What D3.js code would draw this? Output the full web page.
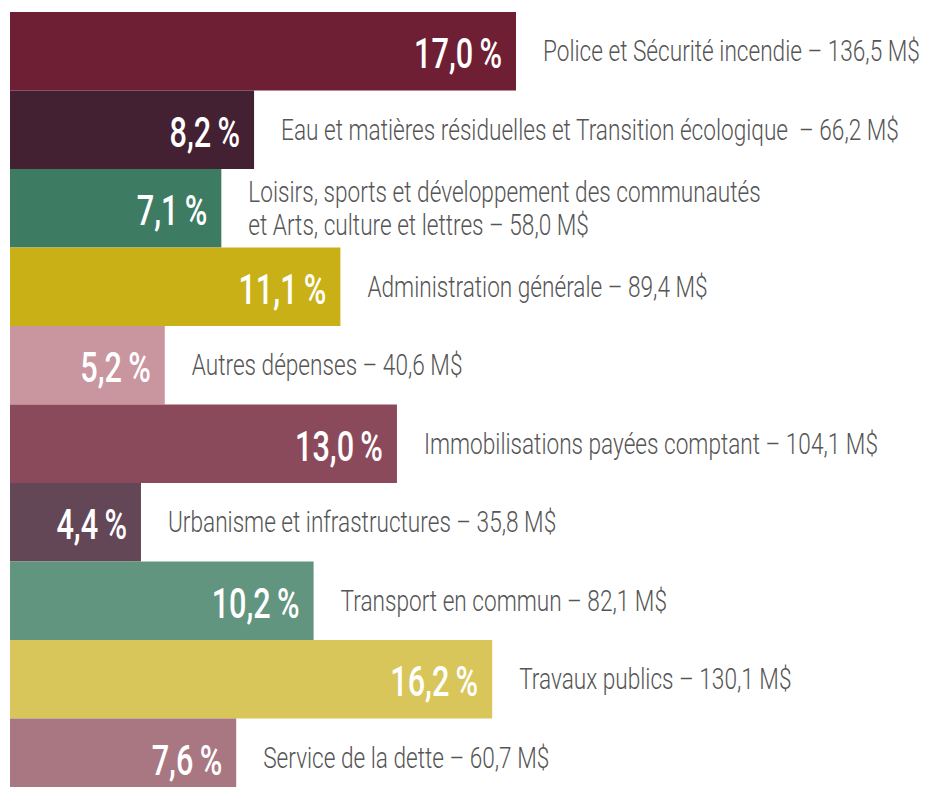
<!DOCTYPE html>
<html>
<head>
<meta charset="utf-8">
<script src="https://cdn.jsdelivr.net/npm/d3@7"></script>
<style>
  html, body { margin: 0; padding: 0; background: #fff; }
  svg { display: block; }
</style>
</head>
<body>
<div id="chart"></div>
<script>
// postes budgétaires (le \n marque un retour à la ligne)
const categories = [
    "Police et Sécurité incendie",
    "Eau et matières résiduelles et Transition écologique ",
    "Loisirs, sports et développement des communautés\net Arts, culture et lettres",
    "Administration générale",
    "Autres dépenses",
    "Immobilisations payées comptant",
    "Urbanisme et infrastructures",
    "Transport en commun",
    "Travaux publics",
    "Service de la dette"
];
const percents = [17.0, 8.2, 7.1, 11.1, 5.2, 13.0, 4.4, 10.2, 16.2, 7.6];
const amounts = [136.5, 66.2, 58.0, 89.4, 40.6, 104.1, 35.8, 82.1, 130.1, 60.7];
const palette = ["#6e1f34", "#442033", "#3e7b63", "#c9b016", "#c9959e",
                 "#8b4a5b", "#644757", "#62957f", "#d9c65a", "#a87781"];

const width = 925, height = 787;

const fr = d3.formatLocale({ decimal: ",", thousands: " ", grouping: [3], currency: ["", " $"] });
const fmt1 = fr.format(".1f");

const data = categories.map((c, i) => ({
    cat: c,
    pct: percents[i],
    amt: amounts[i],
    color: palette[i]
}));

const svg = d3.select("#chart")
    .append("svg")
    .attr("width", width)
    .attr("height", height);

const x = d3.scaleLinear()
    .domain([0, 17])
    .range([10, 516]);

const y = d3.scaleBand()
    .domain(categories)
    .range([12, 12 + categories.length * 78.5])
    .padding(0);

const rows = svg.selectAll(".row")
    .data(data)
    .enter()
    .append("g")
    .attr("class", "row")
    .attr("transform", d => `translate(0,${y(d.cat)})`);

rows.append("rect")
    .attr("x", x(0))
    .attr("y", 0)
    .attr("width", d => x(d.pct) - x(0))
    .attr("height", y.bandwidth())
    .attr("fill", d => d.color);

// pourcentage en blanc, aligné à droite dans la barre
rows.append("text")
    .attr("transform", d => `translate(${x(d.pct) - 14},${y.bandwidth() / 2 + 17}) scale(0.73,1)`)
    .attr("text-anchor", "end")
    .style("font-family", "Roboto, 'Noto Sans', sans-serif")
    .style("font-weight", "500")
    .style("font-size", "42px")
    .style("fill", "#fff")
    .text(d => `${fmt1(d.pct)}\u2009%`);

// libellé + montant à droite de la barre
rows.each(function (d) {
    const lines = d.cat.split("\n");
    lines[lines.length - 1] += ` – ${fmt1(d.amt)} M$`;
    const g = d3.select(this);
    const lh = 33;
    const y0 = y.bandwidth() / 2 - (lines.length - 1) * lh / 2 + 10;
    lines.forEach((ln, j) => {
        g.append("text")
            .attr("transform", `translate(${x(d.pct) + 27},${y0 + j * lh}) scale(0.78,1)`)
            .style("font-family", "Roboto, 'Noto Sans', sans-serif")
            .style("font-weight", "300")
            .style("font-size", "29px")
            .style("fill", "#555")
            .style("white-space", "pre")
            .text(ln);
    });
});
</script>
</body>
</html>
